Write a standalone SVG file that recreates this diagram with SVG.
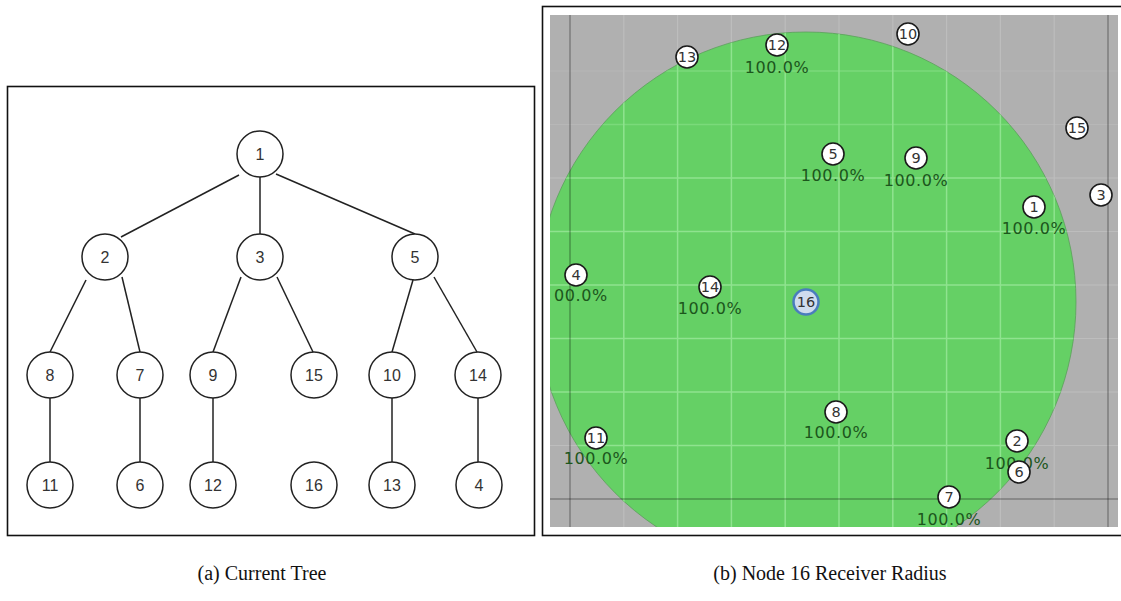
<svg xmlns="http://www.w3.org/2000/svg" width="1121" height="601" viewBox="0 0 1121 601">
<style>
.frame{fill:#fff;stroke:#111;stroke-width:1.6}
.edge{stroke:#222;stroke-width:1.5;fill:none}
.tn{fill:#fff;stroke:#222;stroke-width:1.5}
.tl{font-family:"Liberation Sans",Arial,sans-serif;font-size:16px;fill:#333;text-anchor:middle;dominant-baseline:central}
.rn{fill:#fff;stroke:#1a1a1a;stroke-width:1.6}
.rl{font-family:"DejaVu Sans",sans-serif;font-size:14.5px;fill:#333;text-anchor:middle;dominant-baseline:central}
.pct{font-family:"DejaVu Sans",sans-serif;font-size:16px;letter-spacing:0.6px;fill:#1c561c}
.gg{stroke:#bdbdbd;stroke-width:1.2}
.gl{stroke:#8fe38f;stroke-width:1.5}
.dk{stroke:#000;stroke-opacity:0.22;stroke-width:2}
.cap{font-family:"Liberation Serif","Times New Roman",serif;font-size:20px;fill:#111;text-anchor:middle}
</style>
<defs>
<clipPath id="plot"><rect x="550" y="15" width="568" height="512"/></clipPath>
<clipPath id="disc"><circle cx="806" cy="302" r="270"/></clipPath>
</defs>

<!-- (a) tree panel -->
<rect class="frame" x="7.5" y="86.5" width="527" height="449"/>
<g id="tree-edges">
<line class="edge" x1="239" y1="175" x2="121" y2="237"/>
<line class="edge" x1="260" y1="177" x2="260" y2="234"/>
<line class="edge" x1="276" y1="174" x2="415" y2="234"/>
<line class="edge" x1="86" y1="280" x2="50" y2="352"/>
<line class="edge" x1="122" y1="277" x2="140" y2="352"/>
<line class="edge" x1="241" y1="277" x2="213" y2="352"/>
<line class="edge" x1="277" y1="277" x2="313" y2="352"/>
<line class="edge" x1="413" y1="280" x2="392" y2="352"/>
<line class="edge" x1="434" y1="277" x2="477" y2="352"/>
<line class="edge" x1="50" y1="398" x2="50" y2="462"/>
<line class="edge" x1="140" y1="398" x2="140" y2="462"/>
<line class="edge" x1="213" y1="398" x2="213" y2="462"/>
<line class="edge" x1="392" y1="398" x2="392" y2="462"/>
<line class="edge" x1="478" y1="398" x2="478" y2="462"/>
</g>
<g id="t1"><circle class="tn" cx="260" cy="154" r="23"/><text class="tl" x="260" y="154">1</text></g>
<g id="t2"><circle class="tn" cx="105" cy="257" r="23"/><text class="tl" x="105" y="257">2</text></g>
<g id="t3"><circle class="tn" cx="260" cy="257" r="23"/><text class="tl" x="260" y="257">3</text></g>
<g id="t5"><circle class="tn" cx="415" cy="257" r="23"/><text class="tl" x="415" y="257">5</text></g>
<g id="t8"><circle class="tn" cx="50" cy="375" r="23"/><text class="tl" x="50" y="375">8</text></g>
<g id="t7"><circle class="tn" cx="140" cy="375" r="23"/><text class="tl" x="140" y="375">7</text></g>
<g id="t9"><circle class="tn" cx="213" cy="375" r="23"/><text class="tl" x="213" y="375">9</text></g>
<g id="t15"><circle class="tn" cx="314" cy="375" r="23"/><text class="tl" x="314" y="375">15</text></g>
<g id="t10"><circle class="tn" cx="392" cy="375" r="23"/><text class="tl" x="392" y="375">10</text></g>
<g id="t14"><circle class="tn" cx="478" cy="375" r="23"/><text class="tl" x="478" y="375">14</text></g>
<g id="t11"><circle class="tn" cx="50" cy="485" r="23"/><text class="tl" x="50" y="485">11</text></g>
<g id="t6"><circle class="tn" cx="140" cy="485" r="23"/><text class="tl" x="140" y="485">6</text></g>
<g id="t12"><circle class="tn" cx="213" cy="485" r="23"/><text class="tl" x="213" y="485">12</text></g>
<g id="t16"><circle class="tn" cx="314" cy="485" r="23"/><text class="tl" x="314" y="485">16</text></g>
<g id="t13"><circle class="tn" cx="392" cy="485" r="23"/><text class="tl" x="392" y="485">13</text></g>
<g id="t4"><circle class="tn" cx="479" cy="485" r="23"/><text class="tl" x="479" y="485">4</text></g>

<!-- (b) receiver radius panel -->
<rect class="frame" x="542.5" y="6.5" width="600" height="529"/>
<g id="plot-area" clip-path="url(#plot)">
<rect x="550" y="15" width="568" height="512" fill="#b0b0b0"/>
<g id="grid-gray">
<line class="gg" x1="623.8" y1="15" x2="623.8" y2="527"/><line class="gg" x1="677.6" y1="15" x2="677.6" y2="527"/>
<line class="gg" x1="731.4" y1="15" x2="731.4" y2="527"/><line class="gg" x1="785.2" y1="15" x2="785.2" y2="527"/>
<line class="gg" x1="839" y1="15" x2="839" y2="527"/><line class="gg" x1="892.8" y1="15" x2="892.8" y2="527"/>
<line class="gg" x1="946.6" y1="15" x2="946.6" y2="527"/><line class="gg" x1="1000.4" y1="15" x2="1000.4" y2="527"/>
<line class="gg" x1="1054.2" y1="15" x2="1054.2" y2="527"/>
<line class="gg" x1="550" y1="445.5" x2="1118" y2="445.5"/><line class="gg" x1="550" y1="392" x2="1118" y2="392"/>
<line class="gg" x1="550" y1="338.5" x2="1118" y2="338.5"/><line class="gg" x1="550" y1="285" x2="1118" y2="285"/>
<line class="gg" x1="550" y1="231.5" x2="1118" y2="231.5"/><line class="gg" x1="550" y1="178" x2="1118" y2="178"/>
<line class="gg" x1="550" y1="124.5" x2="1118" y2="124.5" stroke-opacity="0.5"/><line class="gg" x1="550" y1="71" x2="1118" y2="71" stroke-opacity="0.5"/>
</g>
<circle id="radius" cx="806" cy="302" r="270" fill="#65d065" stroke="#5aa05a" stroke-width="0.8"/>
<g id="grid-green" clip-path="url(#disc)">
<line class="gl" x1="623.8" y1="15" x2="623.8" y2="527"/><line class="gl" x1="677.6" y1="15" x2="677.6" y2="527"/>
<line class="gl" x1="731.4" y1="15" x2="731.4" y2="527"/><line class="gl" x1="785.2" y1="15" x2="785.2" y2="527"/>
<line class="gl" x1="839" y1="15" x2="839" y2="527"/><line class="gl" x1="892.8" y1="15" x2="892.8" y2="527"/>
<line class="gl" x1="946.6" y1="15" x2="946.6" y2="527"/><line class="gl" x1="1000.4" y1="15" x2="1000.4" y2="527"/>
<line class="gl" x1="1054.2" y1="15" x2="1054.2" y2="527"/>
<line class="gl" x1="550" y1="445.5" x2="1118" y2="445.5"/><line class="gl" x1="550" y1="392" x2="1118" y2="392"/>
<line class="gl" x1="550" y1="338.5" x2="1118" y2="338.5"/><line class="gl" x1="550" y1="285" x2="1118" y2="285"/>
<line class="gl" x1="550" y1="231.5" x2="1118" y2="231.5"/><line class="gl" x1="550" y1="178" x2="1118" y2="178"/>
<line class="gl" x1="550" y1="124.5" x2="1118" y2="124.5" stroke-opacity="0.5"/><line class="gl" x1="550" y1="71" x2="1118" y2="71" stroke-opacity="0.5"/>
</g>
<g id="axes">
<line class="dk" x1="570" y1="15" x2="570" y2="527"/>
<line class="dk" x1="1108" y1="15" x2="1108" y2="527"/>
<line class="dk" x1="550" y1="499" x2="1118" y2="499"/>
</g>

<g id="labels" text-anchor="middle">
<text class="pct" x="777" y="73">100.0%</text>
<text class="pct" x="833" y="181">100.0%</text>
<text class="pct" x="916" y="186">100.0%</text>
<text class="pct" x="1034" y="234">100.0%</text>
<text class="pct" x="554" y="301" style="text-anchor:start">00.0%</text>
<text class="pct" x="710" y="314">100.0%</text>
<text class="pct" x="836" y="438">100.0%</text>
<text class="pct" x="596" y="464">100.0%</text>
<text class="pct" x="1017" y="469">100.0%</text>
<text class="pct" x="949" y="525">100.0%</text>
</g>

<g id="n13"><circle class="rn" cx="687" cy="57" r="11" stroke-width="2.2"/><text class="rl" x="687" y="57">13</text></g>
<g id="n12"><circle class="rn" cx="777" cy="45" r="11"/><text class="rl" x="777" y="45">12</text></g>
<g id="n10"><circle class="rn" cx="908" cy="34" r="11" stroke-width="2"/><text class="rl" x="908" y="34">10</text></g>
<g id="n15"><circle class="rn" cx="1077" cy="128" r="11" stroke-width="2"/><text class="rl" x="1077" y="128">15</text></g>
<g id="n3"><circle class="rn" cx="1101" cy="195" r="11"/><text class="rl" x="1101" y="195">3</text></g>
<g id="n5"><circle class="rn" cx="833" cy="154" r="11"/><text class="rl" x="833" y="154">5</text></g>
<g id="n9"><circle class="rn" cx="916" cy="158" r="11"/><text class="rl" x="916" y="158">9</text></g>
<g id="n1"><circle class="rn" cx="1034" cy="207" r="11"/><text class="rl" x="1034" y="207">1</text></g>
<g id="n4"><circle class="rn" cx="576" cy="275" r="11"/><text class="rl" x="576" y="275">4</text></g>
<g id="n14"><circle class="rn" cx="710" cy="287" r="11"/><text class="rl" x="710" y="287">14</text></g>
<g id="n16"><circle cx="806" cy="302" r="12.5" fill="#cfdcee" stroke="#4a7dbd" stroke-width="2.5"/><text class="rl" x="806" y="302">16</text></g>
<g id="n8"><circle class="rn" cx="836" cy="412" r="11"/><text class="rl" x="836" y="412">8</text></g>
<g id="n11"><circle class="rn" cx="596" cy="438" r="11"/><text class="rl" x="596" y="438">11</text></g>
<g id="n2"><circle class="rn" cx="1017" cy="441" r="11"/><text class="rl" x="1017" y="441">2</text></g>
<g id="n6"><circle class="rn" cx="1019" cy="472" r="11"/><text class="rl" x="1019" y="472">6</text></g>
<g id="n7"><circle class="rn" cx="949" cy="497" r="11"/><text class="rl" x="949" y="497">7</text></g>
</g>

<text class="cap" x="262" y="580">(a) Current Tree</text>
<text class="cap" x="830" y="580">(b) Node 16 Receiver Radius</text>
</svg>
